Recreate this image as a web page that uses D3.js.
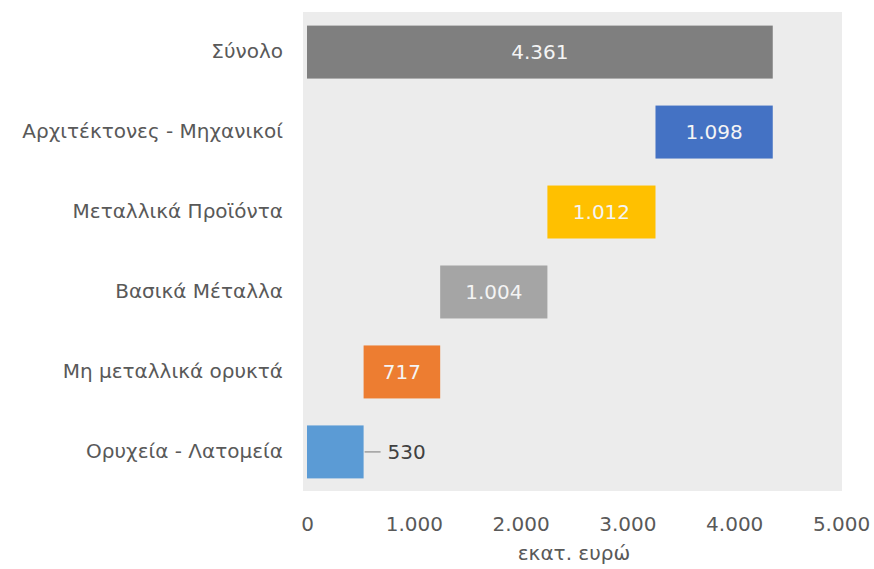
<!DOCTYPE html>
<html><head><meta charset="utf-8">
<script src="https://cdn.jsdelivr.net/npm/d3@7"></script>
<style>body{margin:0;background:#fff}svg{display:block}</style>
</head><body>
<svg id="chart" width="874" height="569"></svg>
<script>
const categories = ["Σύνολο","Αρχιτέκτονες - Μηχανικοί","Μεταλλικά Προϊόντα","Βασικά Μέταλλα","Μη μεταλλικά ορυκτά","Ορυχεία - Λατομεία"];
const values = [4361, 1098, 1012, 1004, 717, 530];
const isTotal = [true, false, false, false, false, false];
const colors = ["#7f7f7f","#4472c4","#ffc000","#a5a5a5","#ed7d31","#5b9bd5"];
const xTicks = [0,1000,2000,3000,4000,5000];
const xTitle = "εκατ. ευρώ";

// waterfall: components stacked from the bottom up, total spans full
const n = values.length;
const starts = new Array(n).fill(0);
let acc = 0;
for (let i = n-1; i >= 0; i--) {
  if (isTotal[i]) { starts[i] = 0; }
  else { starts[i] = acc; acc += values[i]; }
}

const font = "'DejaVu Sans', sans-serif";
const fs = 20;
const fmt = v => d3.format(",")(v).replace(/,/g, ".");

const svg = d3.select("#chart");
const x = d3.scaleLinear().domain([0,5000]).range([307, 841]);
const y = d3.scaleBand().domain(categories).range([12, 492]).paddingInner(0.3375).paddingOuter(0.17);

svg.append("rect").attr("x", x(0)-4).attr("y", 12).attr("width", x(5000)-x(0)+5).attr("height", 479).attr("fill", "#ececec");

svg.selectAll("rect.bar").data(categories).join("rect").attr("class","bar")
  .attr("x", (d,i) => x(starts[i]))
  .attr("y", d => y(d))
  .attr("width", (d,i) => x(starts[i]+values[i]) - x(starts[i]))
  .attr("height", y.bandwidth())
  .attr("fill", (d,i) => colors[i]);

// value labels
categories.forEach((c,i) => {
  const cy = y(c) + y.bandwidth()/2;
  const w = x(starts[i]+values[i]) - x(starts[i]);
  if (w > 70) {
    svg.append("text").attr("x", x(starts[i]+values[i]/2)).attr("y", cy).attr("dy","0.36em")
      .attr("text-anchor","middle").attr("fill","#f4f4f4").attr("font-family",font).attr("font-size",fs).text(fmt(values[i]));
  } else {
    const xe = x(starts[i]+values[i]);
    svg.append("line").attr("x1", xe+1).attr("x2", xe+17).attr("y1", cy).attr("y2", cy).attr("stroke","#8a8a8a").attr("stroke-width",1.2);
    svg.append("text").attr("x", xe+24).attr("y", cy).attr("dy","0.36em")
      .attr("fill","#404040").attr("font-family",font).attr("font-size",fs).text(fmt(values[i]));
  }
});

// category axis
const ya = svg.append("g").attr("transform", `translate(283,0)`)
  .call(d3.axisLeft(y).tickSize(0).tickPadding(0));
ya.select(".domain").remove();
ya.selectAll("text").attr("font-family",font).attr("font-size",fs).attr("fill","#595959");

// x axis
const xa = svg.append("g").attr("transform", `translate(0,0)`)
  .call(d3.axisBottom(x).tickValues(xTicks).tickSize(0).tickPadding(0).tickFormat(fmt));
xa.select(".domain").remove();
xa.selectAll("text").attr("y", 531).attr("dy", 0).attr("font-family",font).attr("font-size",fs).attr("fill","#595959");

svg.append("text").attr("x", (x(0)+x(5000))/2).attr("y", 560).attr("text-anchor","middle")
  .attr("font-family",font).attr("font-size",fs).attr("fill","#595959").text(xTitle);
</script>
</body></html>
